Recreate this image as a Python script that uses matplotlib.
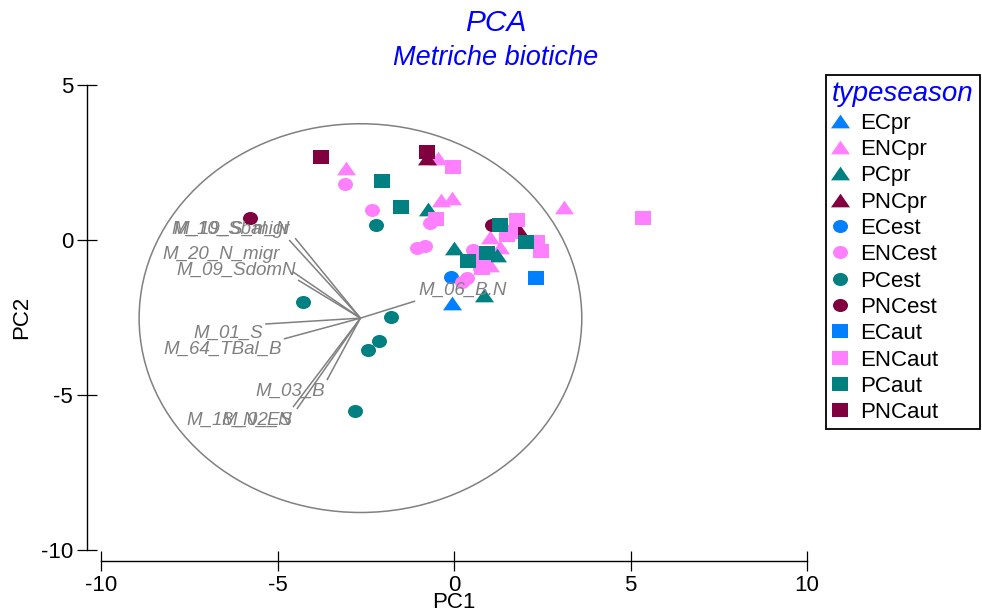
import numpy as np
import matplotlib
matplotlib.use("Agg")
import matplotlib.pyplot as plt
from matplotlib.path import Path
from matplotlib.transforms import Affine2D
from matplotlib.patches import Circle
from matplotlib.lines import Line2D

plt.rcParams['font.family'] = ['Liberation Sans', 'DejaVu Sans']

# ---------------- data ----------------
group_names = ["ECpr", "ENCpr", "PCpr", "PNCpr",
               "ECest", "ENCest", "PCest", "PNCest",
               "ECaut", "ENCaut", "PCaut", "PNCaut"]

ecpr_x = [-0.06]
ecpr_y = [-2.03]
encpr_x = [-3.06, -0.45, -0.37, -0.06, 3.12, 1.02, 1.30, 1.02]
encpr_y = [2.32, 2.65, 1.29, 1.35, 1.06, 0.10, -0.23, -0.81]
pcpr_x = [-0.74, 0.00, 1.22, 0.85]
pcpr_y = [1.00, -0.26, -0.48, -1.77]
pncpr_x = [-0.76, 1.84]
pncpr_y = [2.65, 0.32]

ecest_x = [-0.08]
ecest_y = [-1.19]
encest_x = [-3.09, -2.32, -1.05, -0.82, -0.68, 0.54, 0.37, 0.23, 0.74, 1.10]
encest_y = [1.81, 0.97, -0.26, -0.19, 0.55, -0.32, -1.23, -1.35, -0.90, 0.48]
pcest_x = [-2.21, -4.28, -1.78, -2.12, -2.44, -2.80]
pcest_y = [0.48, -2.00, -2.48, -3.26, -3.55, -5.52]
pncest_x = [-5.78, 1.08]
pncest_y = [0.71, 0.48]

ecaut_x = [2.32]
ecaut_y = [-1.23]
encaut_x = [-0.03, -0.51, 1.78, 1.59, 2.35, 2.46, 0.79, 5.35, 1.49, 0.82]
encaut_y = [2.35, 0.68, 0.65, 0.26, -0.06, -0.35, -0.90, 0.71, 0.16, -0.65]
pcaut_x = [-2.04, -1.50, 1.30, 2.04, 0.93, 0.40]
pcaut_y = [1.90, 1.06, 0.48, -0.06, -0.42, -0.68]
pncaut_x = [-3.77, -0.76]
pncaut_y = [2.68, 2.84]

# loadings (biplot arrows)
load_names = ["M_19_S_migr", "M_10_Sbal_N", "M_20_N_migr", "M_09_SdomN",
              "M_01_S", "M_64_TBal_B", "M_03_B", "M_02_N", "M_18_N_ES", "M_06_B.N"]
load_origin = (-2.65, -2.52)
load_x = [-4.67, -4.50, -4.56, -4.42, -5.35, -4.82, -3.60, -4.56, -4.45, -1.10]
load_y = [0.00, 0.06, -1.03, -1.29, -2.71, -3.19, -4.52, -5.39, -5.45, -1.97]
circle_radius = 6.27

x_ticks = [-10, -5, 0, 5, 10]
y_ticks = [-10, -5, 0, 5]

# ---------------- styles ----------------
c_blue = "#0080FF"
c_pink = "#FF80FF"
c_teal = "#008080"
c_maroon = "#800040"
title_blue = "#0000FF"
gray = "#808080"

tri = Path([(-1, -0.72), (1, -0.72), (0, 0.72), (-1, -0.72)],
           [Path.MOVETO, Path.LINETO, Path.LINETO, Path.CLOSEPOLY])
circ = Path.unit_circle().transformed(Affine2D().scale(1.0, 0.87))
sq = Path([(-1, -0.875), (1, -0.875), (1, 0.875), (-1, 0.875), (-1, -0.875)],
          [Path.MOVETO, Path.LINETO, Path.LINETO, Path.LINETO, Path.CLOSEPOLY])

series = [
    (ecpr_x, ecpr_y, tri, c_blue, 13.7),
    (encpr_x, encpr_y, tri, c_pink, 13.7),
    (pcpr_x, pcpr_y, tri, c_teal, 13.7),
    (pncpr_x, pncpr_y, tri, c_maroon, 13.7),
    (ecest_x, ecest_y, circ, c_blue, 10.8),
    (encest_x, encest_y, circ, c_pink, 10.8),
    (pcest_x, pcest_y, circ, c_teal, 10.8),
    (pncest_x, pncest_y, circ, c_maroon, 10.8),
    (ecaut_x, ecaut_y, sq, c_blue, 11.5),
    (encaut_x, encaut_y, sq, c_pink, 11.5),
    (pcaut_x, pcaut_y, sq, c_teal, 11.5),
    (pncaut_x, pncaut_y, sq, c_maroon, 11.5),
]

# label offsets in pixels (dx, dy; dy positive = up)
label_off = [(1, 11), (-5, 9), (-13, 17), (-2, 10), (-2, -9), (-2, -10),
             (-2, -11), (-1, -13), (-4, -11), (3, 11)]

W, H = 982, 615
fig = plt.figure(figsize=(W / 100, H / 100), dpi=100)
ax = fig.add_axes([101 / W, 1 - 550 / H, (807 - 101) / W, (550 - 85) / H])
ax.set_xlim(-10, 10)
ax.set_ylim(-10, 5)

# circle
ax.add_patch(Circle(load_origin, circle_radius, fill=False, edgecolor=gray,
                    linewidth=1.1, clip_on=False))

# loading lines + labels
for name, lx, ly, off in zip(load_names, load_x, load_y, label_off):
    ax.plot([load_origin[0], lx], [load_origin[1], ly], color=gray, lw=1.1,
            solid_capstyle='butt')
    ha = 'right' if lx < load_origin[0] else 'left'
    ax.annotate(name, (lx, ly), xytext=off, textcoords='offset pixels',
                ha=ha, va='center', fontsize=13.5, style='italic', color=gray)

# points
for xs, ys, mk, col, ms in series:
    ax.plot(xs, ys, linestyle='none', marker=mk, markersize=ms,
            markerfacecolor=col, markeredgecolor=col, markeredgewidth=0)

# axes styling (detached R-like axes)
for s in ['top', 'right']:
    ax.spines[s].set_visible(False)
ax.spines['left'].set_position(('outward', 14 * 0.72))
ax.spines['bottom'].set_position(('outward', 11 * 0.72))
ax.spines['left'].set_bounds(-10, 5)
ax.spines['bottom'].set_bounds(-10, 10)
for s in ['left', 'bottom']:
    ax.spines[s].set_linewidth(1.0)
ax.set_xticks(x_ticks)
ax.set_yticks(y_ticks)
ax.tick_params(direction='inout', length=14, width=0.9, labelsize=16, pad=3)
ax.set_xticklabels([str(v) for v in x_ticks])
ax.set_yticklabels([str(v) for v in y_ticks])
ax.set_xlabel("PC1", fontsize=16)
ax.set_ylabel("PC2", fontsize=16)
ax.xaxis.set_label_coords(0.5, (550 - 592) / 465)
ax.yaxis.set_label_coords((32 - 101) / 706, 0.5)

# titles
fig.text(496 / W, 1 - 23 / H, "PCA", ha='center', va='center', fontsize=21.5,
         style='italic', color=title_blue)
fig.text(496 / W, 1 - 58 / H, "Metriche biotiche", ha='center', va='center',
         fontsize=19.5, style='italic', color=title_blue)

# legend
handles = []
for (xs, ys, mk, col, ms), nm in zip(series, group_names):
    handles.append(Line2D([], [], linestyle='none', marker=mk, markersize=ms,
                          markerfacecolor=col, markeredgecolor=col,
                          markeredgewidth=0, label=nm))
leg = fig.legend(handles=handles, loc='upper left',
                 bbox_to_anchor=(826 / W, 1 - 75 / H), bbox_transform=fig.transFigure,
                 borderaxespad=0, frameon=True, fancybox=False, framealpha=1,
                 edgecolor='black', fontsize=16, title='typeseason',
                 title_fontproperties={'size': 20, 'style': 'italic'},
                 handlelength=0.72, handletextpad=0.54, labelspacing=0.24,
                 borderpad=0.28, alignment='left')
leg.get_title().set_color(title_blue)
leg.get_frame().set_linewidth(1.3)

fig.savefig("out.png", dpi=100)
